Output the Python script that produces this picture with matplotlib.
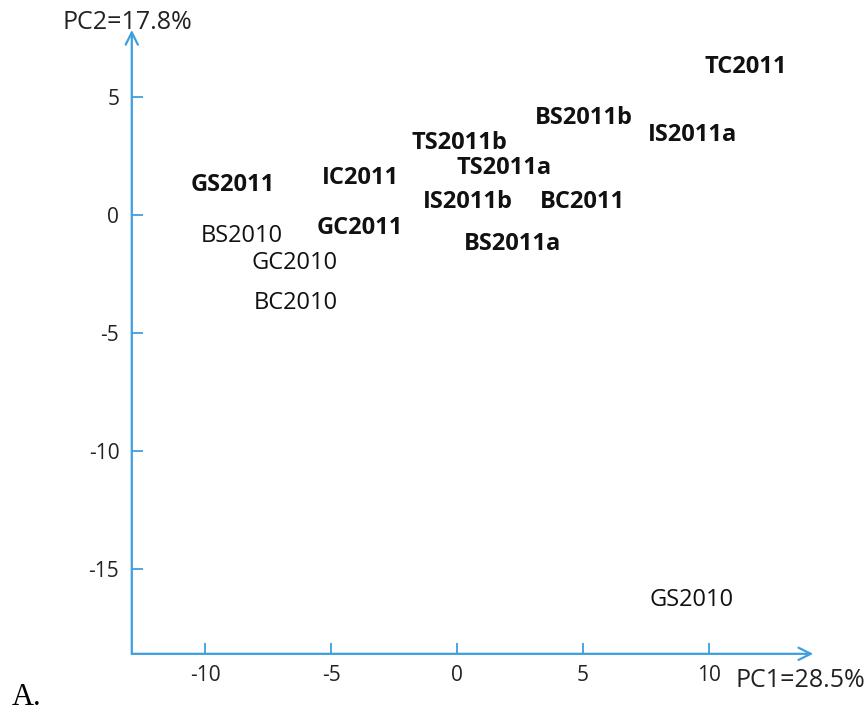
import matplotlib.pyplot as plt

# sample labels and their PCA scores (PC1, PC2)
labels = ["TC2011", "BS2011b", "IS2011a", "TS2011b", "TS2011a", "GS2011",
          "IC2011", "IS2011b", "BC2011", "GC2011", "BS2011a",
          "BS2010", "GC2010", "BC2010", "GS2010"]
pc1 = [11.45, 5.05, 9.35, 0.1, 1.85, -8.9, -3.85, 0.45, 5.0, -3.85, 2.2,
       -8.55, -6.45, -6.4, 9.3]
pc2 = [6.25, 4.1, 3.4, 3.05, 2.0, 1.25, 1.55, 0.55, 0.55, -0.55, -1.25,
       -0.9, -2.05, -3.75, -16.3]
bold = [True] * 11 + [False] * 4

xticks = [-10, -5, 0, 5, 10]
yticks = [5, 0, -5, -10, -15]

blue = "#3d9fdd"
plt.rcParams['font.family'] = ['Open Sans', 'DejaVu Sans']
plt.rcParams['axes.unicode_minus'] = False

fig = plt.figure(figsize=(8.67, 7.13), dpi=100)
ax = fig.add_axes([0.152, 0.083, 0.786, 0.875])
ax.set_xlim(-12.92, 14.15)
ax.set_ylim(-18.6, 7.84)

for s in ax.spines.values():
    s.set_visible(False)

# axes drawn as arrows
ax.annotate('', xy=(1, 0), xytext=(0, 0), xycoords='axes fraction',
            arrowprops=dict(arrowstyle='->', color=blue, lw=1.6,
                            mutation_scale=22, shrinkA=0, shrinkB=0))
ax.annotate('', xy=(0, 1), xytext=(0, 0), xycoords='axes fraction',
            arrowprops=dict(arrowstyle='->', color=blue, lw=1.6,
                            mutation_scale=22, shrinkA=0, shrinkB=0))

ax.set_xticks(xticks)
ax.set_yticks(yticks)
ax.tick_params(direction='in', length=8, width=1.3, color=blue,
               labelsize=15, labelcolor='#222222')
ax.tick_params(axis='x', pad=8)
ax.tick_params(axis='y', pad=9)

for lab, x, y, b in zip(labels, pc1, pc2, bold):
    ax.text(x, y, lab, ha='center', va='center', fontsize=17,
            fontweight='bold' if b else 'normal', color='#111111')

fig.text(0.072, 0.959, "PC2=17.8%", fontsize=18, ha='left', va='baseline',
         color='#222222')
fig.text(0.848, 0.036, "PC1=28.5%", fontsize=18, ha='left', va='baseline',
         color='#222222')
fig.text(0.014, 0.011, "A.", fontsize=22, ha='left', va='baseline',
         family='Liberation Serif')

fig.savefig("out.png", dpi=100)
